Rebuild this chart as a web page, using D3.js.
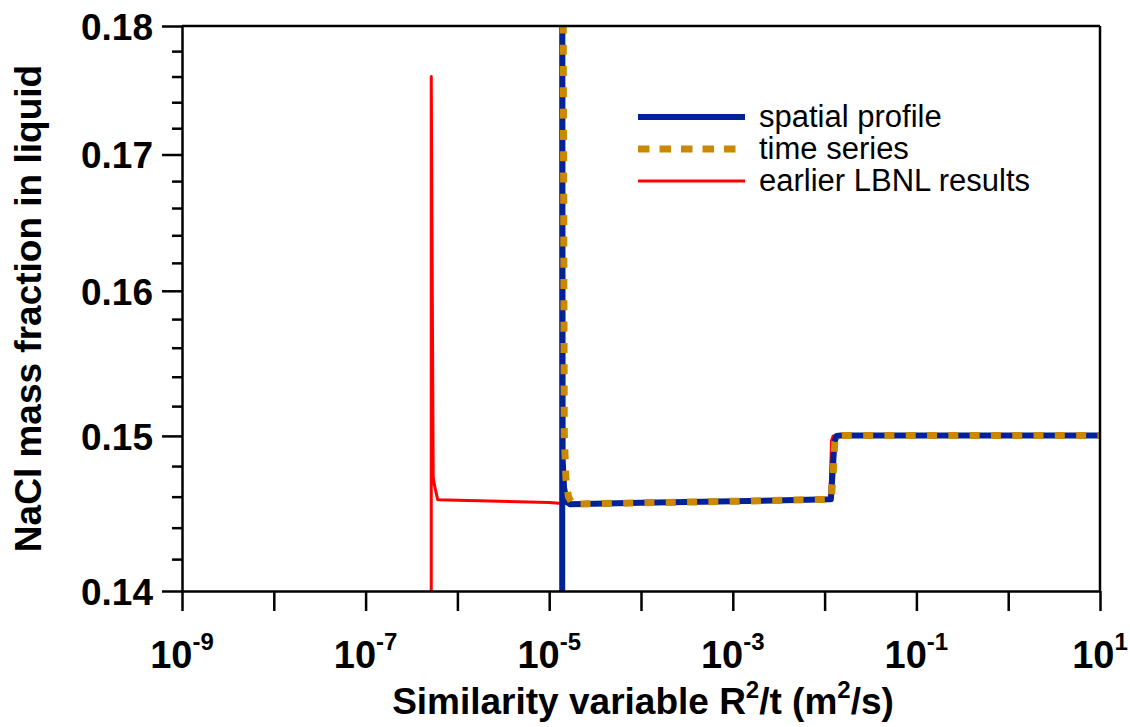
<!DOCTYPE html>
<html>
<head>
<meta charset="utf-8">
<script src="https://cdn.jsdelivr.net/npm/d3@7"></script>
<style>
  html, body { margin: 0; padding: 0; background: #fff; }
  svg { display: block; font-family: "Liberation Sans", Arial, sans-serif; }
</style>
</head>
<body>
<svg id="chart" width="1130" height="727"></svg>
<script>
// ---------- data ----------
const xTickExponents = [-9, -8, -7, -6, -5, -4, -3, -2, -1, 0, 1];
const xLabelExponents = [-9, -7, -5, -3, -1, 1];
const yMajorTicks = [0.14, 0.15, 0.16, 0.17, 0.18];
const yTickLabels = ["0.14", "0.15", "0.16", "0.17", "0.18"];

// earlier LBNL results (red)
const redX = [5.19e-7, 5.19e-7, 5.45e-7, 5.6e-7, 6.1e-7, 1e-6, 1e-5, 1.4e-5, 1e-4, 1e-3, 0.0114, 0.0119, 0.0124, 0.015, 10];
const redY = [0.14, 0.176, 0.1473, 0.1468, 0.14580, 0.14577, 0.14562, 0.14556, 0.14560, 0.14570, 0.14580, 0.1497, 0.1500, 0.1500, 0.1500];

// spatial profile (blue)
const blueX = [1.386e-5, 1.386e-5, 1.40e-5, 1.45e-5, 1.55e-5, 1.7e-5, 1e-4, 1e-3, 0.0117, 0.0122, 0.0128, 0.0135, 0.015, 10];
const blueY = [0.13, 0.20, 0.1485, 0.1466, 0.14565, 0.14550, 0.14560, 0.14570, 0.14583, 0.1475, 0.1496, 0.1500, 0.15002, 0.15002];

// time series (orange, dotted)
const orangeX = [1.40e-5, 1.46e-5, 1.52e-5, 1.62e-5, 1.8e-5, 1e-4, 1e-3, 0.0118, 0.0124, 0.0129, 0.0136, 0.015, 10];
const orangeY = [0.20, 0.1500, 0.1472, 0.14600, 0.14552, 0.14560, 0.14570, 0.14583, 0.1475, 0.1496, 0.1500, 0.15002, 0.15002];

const seriesNames = ["spatial profile", "time series", "earlier LBNL results"];

// ---------- layout ----------
const svg = d3.select("#chart");
const L = 182, R = 1100, T = 26, B = 591;

const x = d3.scaleLog().domain([1e-9, 10]).range([L, R]);
const y = d3.scaleLog().domain([0.14, 0.18]).range([B, T]);

svg.append("defs").append("clipPath").attr("id", "plotclip")
  .append("rect").attr("x", L).attr("y", T).attr("width", R - L).attr("height", B - T);

const line = d3.line().x(d => x(d[0])).y(d => y(d[1]));
const zip = (a, b) => a.map((v, i) => [v, b[i]]);

const plot = svg.append("g").attr("clip-path", "url(#plotclip)");

plot.append("path").datum(zip(redX, redY))
  .attr("d", line).attr("fill", "none").attr("stroke", "#ff0000")
  .attr("stroke-width", 3).attr("stroke-linejoin", "round");

plot.append("path").datum(zip(blueX, blueY))
  .attr("d", line).attr("fill", "none").attr("stroke", "#002299")
  .attr("stroke-width", 6).attr("stroke-linejoin", "round");

plot.append("path").datum(zip(orangeX, orangeY))
  .attr("d", line).attr("fill", "none").attr("stroke", "#cc8800")
  .attr("stroke-width", 7).attr("stroke-dasharray", "10,11.3")
  .attr("stroke-linejoin", "round");

// ---------- axes ----------
const xAxis = d3.axisBottom(x)
  .tickValues(xTickExponents.map(e => Math.pow(10, e)))
  .tickSize(20).tickSizeOuter(0).tickFormat("");
const gx = svg.append("g").attr("transform", `translate(0,${B})`).call(xAxis);
gx.select(".domain").attr("stroke", "#000").attr("stroke-width", 2.5);
gx.selectAll(".tick line").attr("stroke", "#000").attr("stroke-width", 2.5);

const yMinor = d3.range(0, 21).map(i => +(0.14 + i * 0.002).toFixed(3))
  .filter(v => !yMajorTicks.some(m => Math.abs(m - v) < 1e-9));
const yAxisMinor = d3.axisLeft(y).tickValues(yMinor).tickSize(10).tickSizeOuter(0).tickFormat("");
const gym = svg.append("g").attr("transform", `translate(${L},0)`).call(yAxisMinor);
gym.select(".domain").remove();
gym.selectAll(".tick line").attr("stroke", "#000").attr("stroke-width", 2.5);

const yAxis = d3.axisLeft(y).tickValues(yMajorTicks).tickSize(20).tickSizeOuter(0)
  .tickFormat((d, i) => yTickLabels[i]);
const gy = svg.append("g").attr("transform", `translate(${L},0)`).call(yAxis);
gy.select(".domain").attr("stroke", "#000").attr("stroke-width", 2.5);
gy.selectAll(".tick line").attr("stroke", "#000").attr("stroke-width", 2.5);
gy.selectAll(".tick text").attr("x", -29).attr("dy", "0.36em")
  .attr("font-size", 37).attr("font-weight", "bold").attr("fill", "#000")
  .attr("font-family", "Liberation Sans, Arial, sans-serif");

// top and right frame
svg.append("line").attr("x1", L).attr("x2", R).attr("y1", T).attr("y2", T)
  .attr("stroke", "#000").attr("stroke-width", 2.5);
svg.append("line").attr("x1", R).attr("x2", R).attr("y1", T).attr("y2", B)
  .attr("stroke", "#000").attr("stroke-width", 2.5);

// x tick labels with superscripts
xLabelExponents.forEach(e => {
  const t = svg.append("text")
    .attr("x", x(Math.pow(10, e))).attr("y", 668)
    .attr("text-anchor", "middle").attr("font-size", 38).attr("font-weight", "bold");
  t.append("tspan").text("10");
  t.append("tspan").attr("font-size", 24).attr("dy", -18).text(String(e));
});

// x axis title
const xt = svg.append("text").attr("x", 643).attr("y", 714)
  .attr("text-anchor", "middle").attr("font-size", 37).attr("font-weight", "bold");
xt.append("tspan").text("Similarity variable R");
xt.append("tspan").attr("font-size", 24).attr("dy", -16).text("2");
xt.append("tspan").attr("dy", 16).text("/t (m");
xt.append("tspan").attr("font-size", 24).attr("dy", -16).text("2");
xt.append("tspan").attr("dy", 16).text("/s)");

// y axis title
svg.append("text")
  .attr("transform", `translate(41,${(T + B) / 2}) rotate(-90)`)
  .attr("text-anchor", "middle").attr("font-size", 37).attr("font-weight", "bold")
  .text("NaCl mass fraction in liquid");

// ---------- legend ----------
const legendYs = [117, 149, 181];
const legendStyles = [
  { stroke: "#002299", width: 6, dash: null },
  { stroke: "#cc8800", width: 7, dash: "11.5,10" },
  { stroke: "#ff0000", width: 3, dash: null }
];
seriesNames.forEach((name, i) => {
  const st = legendStyles[i];
  const ln = svg.append("line").attr("x1", 638).attr("x2", 745)
    .attr("y1", legendYs[i]).attr("y2", legendYs[i])
    .attr("stroke", st.stroke).attr("stroke-width", st.width);
  if (st.dash) ln.attr("stroke-dasharray", st.dash);
  svg.append("text").attr("x", 759).attr("y", legendYs[i] + 10)
    .attr("font-size", 31).text(name);
});
</script>
</body>
</html>
